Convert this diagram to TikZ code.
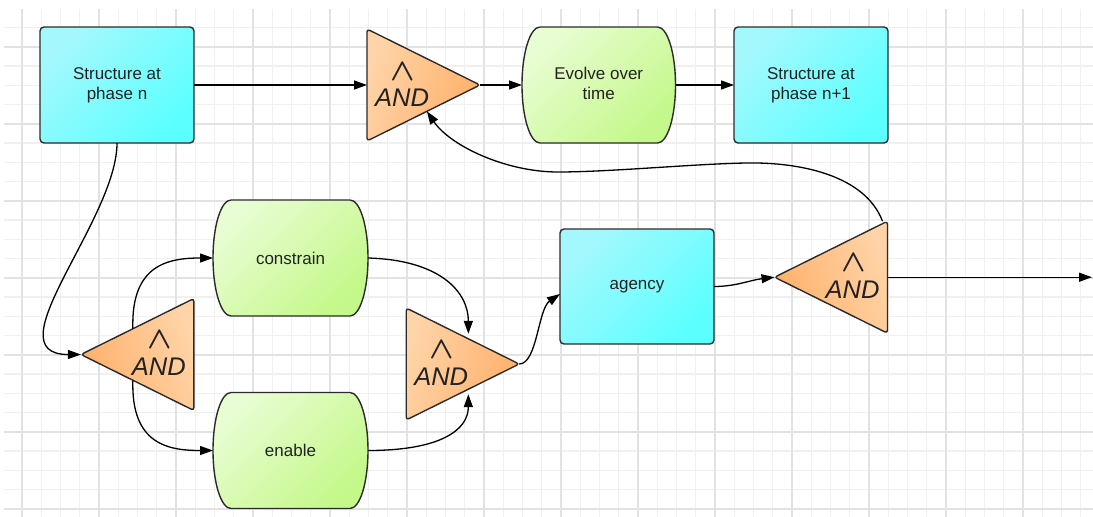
\documentclass[tikz,border=0pt]{standalone}
\usepackage{graphicx}
\usepackage{fontspec}
\setmainfont{Liberation Sans}
\usetikzlibrary{arrows.meta,calc}
\pgfdeclarelayer{gridlayer}
\pgfdeclarelayer{shapelayer}
\pgfsetlayers{gridlayer,shapelayer,main}
\definecolor{cyanL}{HTML}{A4F8FD}
\definecolor{cyanD}{HTML}{5CFFFF}
\definecolor{greenL}{HTML}{E8FDD2}
\definecolor{greenD}{HTML}{C4F88A}
\definecolor{orangeL}{HTML}{FFD4A8}
\definecolor{orangeD}{HTML}{FFB06A}
\definecolor{edgecol}{HTML}{2B2B2B}
\definecolor{txtcol}{HTML}{222222}
\definecolor{gridminor}{HTML}{F0F0F0}
\definecolor{gridmajor}{HTML}{E2E2E2}
\newcommand\drawpill[1]{%
  \path[pillfill] ($(#1.north west)+(18,0)$) -- ($(#1.north east)+(-18,0)$)
    .. controls ($(#1.north east)+(-8,0)$) and ($(#1.east)+(0,-32)$) .. (#1.east)
    .. controls ($(#1.east)+(0,32)$) and ($(#1.south east)+(-8,0)$) .. ($(#1.south east)+(-18,0)$)
    -- ($(#1.south west)+(18,0)$)
    .. controls ($(#1.south west)+(8,0)$) and ($(#1.west)+(0,32)$) .. (#1.west)
    .. controls ($(#1.west)+(0,-32)$) and ($(#1.north west)+(8,0)$) .. ($(#1.north west)+(18,0)$) -- cycle;}
\newcommand\andsym{\scalebox{3.2}[3.1]{\boldmath$\wedge$}}
\begin{document}
\begin{tikzpicture}[x=1pt,y=-1pt,
  every node/.style={inner sep=0pt, outer sep=0pt},
  frame/.style={minimum width=154pt, minimum height=116pt, align=center,
    font=\fontsize{17}{20}\selectfont, text=txtcol},
  cyanbox/.style={frame, draw=edgecol, line width=1.4pt, rounded corners=4pt,
    top color=cyanL, bottom color=cyanD, shading angle=45},
  pillfill/.style={draw=edgecol, line width=1.4pt, top color=greenL, bottom color=greenD, shading angle=45},
  gatebox/.style={minimum width=113pt, minimum height=112pt},
  gateR/.style={draw=edgecol, line width=1.4pt, rounded corners=3pt,
    top color=orangeL, bottom color=orangeD, shading angle=70},
  gateL/.style={draw=edgecol, line width=1.4pt, rounded corners=3pt,
    top color=orangeL, bottom color=orangeD, shading angle=-70},
  wedgetext/.style={anchor=base, font=\fontsize{10}{10}\selectfont, text=txtcol},
  andtext/.style={anchor=base, font=\fontsize{25.5}{28}\selectfont\itshape, text=txtcol},
  conn/.style={draw=black, line width=1.3pt, -{Triangle[length=13pt,width=9pt]}},
  minorline/.style={draw=gridminor, line width=1.2pt},
  majorline/.style={draw=gridmajor, line width=1.6pt}
]
\useasboundingbox (0,0) rectangle (1093,517);
% grid
\begin{pgfonlayer}{gridlayer}
  \fill[white] (0,0) rectangle (1093,517);
  \foreach \i in {0,...,55}{\path[minorline] ({22+19.25*\i},9) -- ({22+19.25*\i},517);}
  \foreach \j in {0,...,25}{\path[minorline] (4,{27.5+19.25*\j}) -- (1093,{27.5+19.25*\j});}
  \foreach \i in {0,...,13}{\path[majorline] ({22+77*\i},9) -- ({22+77*\i},517);}
  \foreach \j in {0,...,6}{\path[majorline] (4,{46.75+77*\j}) -- (1093,{46.75+77*\j});}
\end{pgfonlayer}

% boxes
\node[cyanbox] (b1) at (117,85) {Structure at\\phase n};
\node[cyanbox] (b2) at (811,85) {Structure at\\phase n+1};
\node[cyanbox, minimum height=115pt] (ag) at (637,286.5) {agency};
\node[frame, minimum width=153.5pt] (ev) at (598.75,85) {Evolve over\\time\vphantom{p}};
\node[frame, minimum width=155pt] (con) at (290.5,258) {constrain};
\node[frame, minimum width=155pt] (ena) at (290.5,450.5) {enable};

% gates
\node[gatebox] (g1) at (423.5,85) {};
\node[gatebox] (g2) at (137.4,354.5) {};
\node[gatebox] (g3) at (462.7,364) {};
\node[gatebox] (g4) at (831,277.2) {};

\begin{pgfonlayer}{shapelayer}
  \drawpill{ev}
  \drawpill{con}
  \drawpill{ena}
  \path[gateR] (g1.north west) -- (g1.east) -- (g1.south west) -- cycle;
  \path[gateR] (g3.north west) -- (g3.east) -- (g3.south west) -- cycle;
  \path[gateL] (g2.north east) -- (g2.west) -- (g2.south east) -- cycle;
  \path[gateL] (g4.north east) -- (g4.west) -- (g4.south east) -- cycle;
\end{pgfonlayer}

\node[wedgetext] (g1w) at ($(g1.west)+(36,-5)$) {\andsym};
\node[andtext]   (g1t) at ($(g1.west)+(35,21)$) {AND};
\node[wedgetext] (g3w) at ($(g3.west)+(36,-6)$) {\andsym};
\node[andtext]   (g3t) at ($(g3.west)+(35,21)$) {AND};
\node[wedgetext] (g2w) at ($(g2.east)+(-34,-6)$) {\andsym};
\node[andtext]   (g2t) at ($(g2.east)+(-35,21)$) {AND};
\node[wedgetext] (g4w) at ($(g4.east)+(-34,-6)$) {\andsym};
\node[andtext]   (g4t) at ($(g4.east)+(-35,21)$) {AND};

% connection points
\coordinate (g1in2) at ($(g1.east)!0.47!(g1.south west)$);
\coordinate (g2up) at ($(g2.west)!0.46!(g2.north east)$);
\coordinate (g2dn) at ($(g2.west)!0.46!(g2.south east)$);
\coordinate (g3up) at ($(g3.north west)!0.55!(g3.east)+(0,-5)$);
\coordinate (g3dn) at ($(g3.south west)!0.55!(g3.east)+(0,5)$);
\coordinate (g4top) at ($(g4.north east)+(-5,0)$);
\coordinate (agin) at ($(ag.west)+(0,7.5)$);
\coordinate (out) at (1092,277.2);
\coordinate (fb1) at (746,163);
\coordinate (fb2) at (558,172);

% connectors
\draw[conn] (b1.east) -- (g1.west);
\draw[conn] (g1.east) -- (ev.west);
\draw[conn] (ev.east) -- (b2.west);
\draw[conn] (b1.south) .. controls +(0,77) and +(-90,0) .. (g2.west);
\draw[conn] (g2up) .. controls +(-2,-64) and +(-45,0) .. (con.west);
\draw[conn] (g2dn) .. controls +(-2,64) and +(-45,0) .. (ena.west);
\draw[conn] (con.east) .. controls +(72,2) and +(0,-42) .. (g3up);
\draw[conn] (ena.east) .. controls +(72,0) and +(0,36) .. (g3dn);
\draw[conn] (g3.east) .. controls +(18,0) and +(-22,15) .. (agin);
\draw[conn] (ag.east) .. controls +(22,0) and +(-25,3) .. (g4.west);
\draw[conn] (g4.east) -- (out);
\draw[conn] (g4top) .. controls +(-17.5,-46) and +(54,-1) .. (fb1)
  .. controls +(-54,1) and +(52,0) .. (fb2)
  .. controls +(-53,0) and +(23,34) .. (g1in2);
\end{tikzpicture}
\end{document}
